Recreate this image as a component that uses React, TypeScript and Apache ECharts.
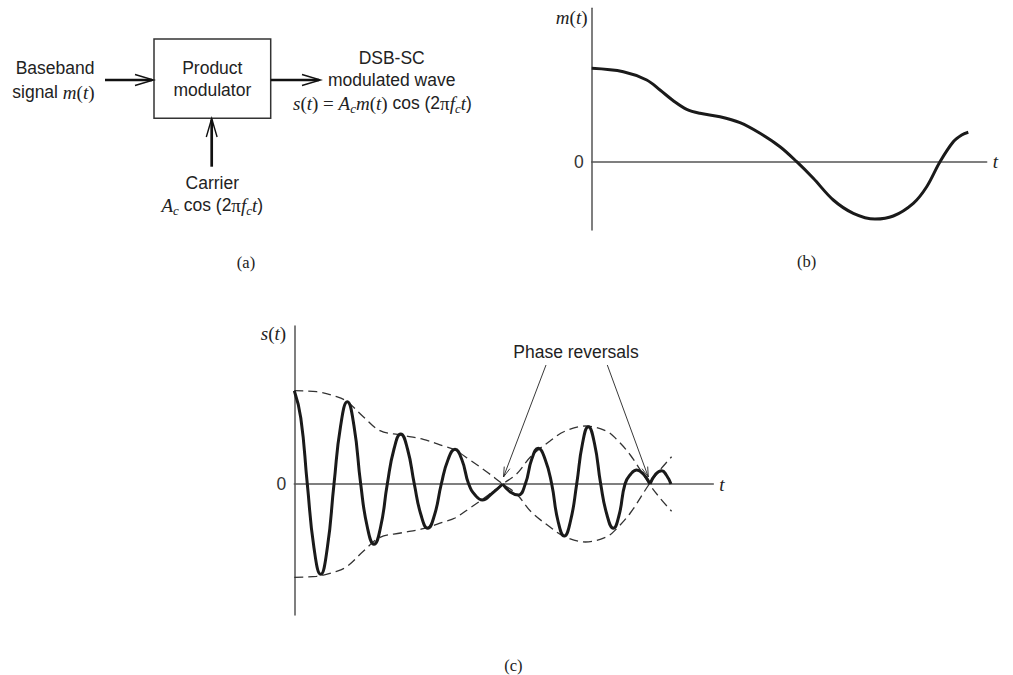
import React, { useEffect, useRef } from "react";
import * as echarts from "echarts";

// ---- Panel (b): baseband signal m(t) (t, value) ----
const mT = [0, 3.16, 5.5, 6.83, 8.16, 9.5, 10.83, 12.83, 14.83, 16.83, 18.83, 20.5, 22.16, 24.16, 26.16, 28.33, 30.16, 32.16, 33.5, 34.83, 36.16, 37.0, 37.66];
const mVal = [9.34, 9.0, 8.17, 7.17, 6.1, 5.24, 4.84, 4.5, 3.9, 2.84, 1.5, 0, -1.66, -3.83, -5.16, -5.73, -5.43, -4.16, -2.5, 0, 2.0, 2.67, 2.94];

// ---- Panel (c): envelope (dashed, drawn as +env and -env) ----
const envT = [0, 2.23, 4.23, 5.3, 6.9, 8.57, 10.63, 12.9, 14.9, 16.07, 17.57, 19.23, 20.84, 22.23, 23.7, 25.57, 27.0, 29.1, 31.2, 32.2, 33.6, 35.5, 36.57, 37.73];
const envVal = [9.33, 9.23, 8.73, 8.23, 6.73, 5.33, 4.9, 4.47, 3.8, 3.4, 2.4, 1.23, 0, -1.0, -2.8, -4.3, -5.25, -5.8, -5.3, -4.5, -2.9, 0, 1.4, 2.73];

// ---- Panel (c): DSB-SC wave s(t), three segments split at the phase reversals ----
const s1T = [0, 0.65, 1.3, 1.97, 2.64, 3.3, 3.97, 4.63, 5.3, 5.97, 6.64, 7.3, 7.97, 8.63, 9.3, 9.97, 10.64, 11.32, 12.0, 12.67, 13.34, 14.02, 14.7, 15.38, 16.07, 16.75, 17.44, 18.12, 18.8, 19.82, 20.84];
const s1V = [9.33, 6.6, 0, -6.4, -9.03, -6.4, 0, 5.8, 8.23, 5.8, 0, -4.3, -6.03, -4.3, 0, 3.5, 5.0, 3.5, 0, -3.1, -4.43, -3.1, 0, 2.45, 3.47, 2.45, 0, -1.15, -1.6, -0.9, 0];
const s2T = [20.84, 21.6, 22.4, 23.1, 23.75, 24.4, 25.07, 25.74, 26.37, 27.0, 27.62, 28.24, 28.82, 29.4, 30.02, 30.64, 31.27, 31.9, 32.48, 33.07, 33.65, 34.24, 34.9, 35.57];
const s2V = [0, -0.8, -1.1, 0, 2.5, 3.57, 2.5, 0, -3.7, -5.2, -3.7, 0, 4.05, 5.73, 4.05, 0, -3.1, -4.43, -3.1, 0, 1.0, 1.4, 1.0, 0];
const s3T = [35.57, 36.15, 36.74, 37.2, 37.67];
const s3V = [0, 1.0, 1.33, 0.9, 0];

const pairs = (t: number[], v: number[]) => t.map((x, i) => [x, v[i]]);

const SANS = "Liberation Sans";
const SERIF = "Liberation Serif";
const INK = "#222";

const rich = {
  s: { fontFamily: SANS, fontSize: 17.5, color: INK, lineHeight: 22, verticalAlign: "middle" },
  it: { fontFamily: SERIF, fontStyle: "italic", fontSize: 19, color: INK, lineHeight: 22, verticalAlign: "middle" },
  rm: { fontFamily: SERIF, fontSize: 19, color: INK, lineHeight: 22, verticalAlign: "middle" },
  sub: { fontFamily: SERIF, fontStyle: "italic", fontSize: 13, color: INK, lineHeight: 12, padding: [10, 0, 0, 0], verticalAlign: "middle" },
};

function head(x1: number, y1: number, x2: number, y2: number, len: number, hw: number) {
  const dx = x2 - x1, dy = y2 - y1, L = Math.hypot(dx, dy);
  const ux = dx / L, uy = dy / L;
  const bx = x2 - ux * len, by = y2 - uy * len;
  return [[bx - uy * hw, by + ux * hw], [x2, y2], [bx + uy * hw, by - ux * hw]];
}

function txt(text: string, x: number, y: number, align: string, extra: any = {}) {
  return {
    type: "text",
    x, y,
    style: { text, textAlign: align, textVerticalAlign: "middle", fill: INK, font: `17.5px '${SANS}'`, rich, ...extra },
  };
}

function line(x1: number, y1: number, x2: number, y2: number, w: number) {
  return { type: "line", shape: { x1, y1, x2, y2 }, style: { stroke: "#111", lineWidth: w } };
}

function poly(points: number[][], w: number) {
  return { type: "polyline", shape: { points }, style: { stroke: "#111", lineWidth: w, fill: "none" } };
}

const axisCommon = {
  axisLine: { show: true, lineStyle: { color: "#555", width: 1.5 } },
  axisTick: { show: false },
  splitLine: { show: false },
};

export default function App() {
  const ref = useRef<HTMLDivElement>(null);
  useEffect(() => {
    if (!ref.current) return;
    const chart = echarts.init(ref.current, undefined, { renderer: "svg" });
    const arrowA = [546, 365, 503.5, 477];
    const arrowB = [607.3, 365, 648.3, 477];
    chart.setOption({
      animation: false,
      grid: [
        { left: 591.7, top: 8.3, width: 395, height: 221.7 },
        { left: 294.3, top: 326, width: 419, height: 289 },
      ],
      xAxis: [
        {
          gridIndex: 0, type: "value", min: 0, max: 39.5, ...axisCommon,
          axisLabel: { show: false },
          name: "t", nameLocation: "end", nameGap: 6,
          nameTextStyle: { fontFamily: SERIF, fontStyle: "italic", fontSize: 19, color: INK },
        },
        {
          gridIndex: 1, type: "value", min: 0, max: 41.9, ...axisCommon,
          axisLabel: { show: false },
          name: "t", nameLocation: "end", nameGap: 6,
          nameTextStyle: { fontFamily: SERIF, fontStyle: "italic", fontSize: 19, color: INK },
        },
      ],
      yAxis: [
        {
          gridIndex: 0, type: "value", min: -6.83, max: 15.34, ...axisCommon,
          axisLabel: {
            formatter: (v: number) => (v === 0 ? "0" : ""), showMinLabel: false, showMaxLabel: false,
            fontFamily: SANS, fontSize: 17.5, color: "#333", margin: 8,
          },
        },
        {
          gridIndex: 1, type: "value", min: -13.1, max: 15.8, ...axisCommon,
          axisLabel: {
            formatter: (v: number) => (v === 0 ? "0" : ""), showMinLabel: false, showMaxLabel: false,
            fontFamily: SANS, fontSize: 17.5, color: "#333", margin: 8,
          },
        },
      ],
      series: [
        {
          type: "line", xAxisIndex: 0, yAxisIndex: 0, data: pairs(mT, mVal), smooth: 0.35,
          showSymbol: false, silent: true, lineStyle: { width: 3, color: "#1a1a1a" },
        },
        {
          type: "line", xAxisIndex: 1, yAxisIndex: 1, data: pairs(envT, envVal), smooth: 0.35,
          showSymbol: false, silent: true, z: 1, lineStyle: { width: 1.3, color: "#333", type: [9, 5] },
        },
        {
          type: "line", xAxisIndex: 1, yAxisIndex: 1, data: pairs(envT, envVal.map((v) => -v)), smooth: 0.35,
          showSymbol: false, silent: true, z: 1, lineStyle: { width: 1.3, color: "#333", type: [9, 5] },
        },
        ...[pairs(s1T, s1V), pairs(s2T, s2V), pairs(s3T, s3V)].map((d) => ({
          type: "line", xAxisIndex: 1, yAxisIndex: 1, data: d, smooth: 0.5,
          showSymbol: false, silent: true, z: 3, lineStyle: { width: 3, color: "#1a1a1a" },
        })),
      ],
      graphic: [
        // ----- panel (a): block diagram -----
        { type: "rect", shape: { x: 154, y: 39, width: 116.7, height: 79.3 }, style: { fill: "none", stroke: "#333", lineWidth: 1.5 } },
        txt("Product", 212.3, 68, "center"),
        txt("modulator", 212.3, 89.5, "center"),
        txt("Baseband", 94.5, 67.7, "right"),
        txt("{s|signal }{it|m}{rm|(}{it|t}{rm|)}", 94.5, 92.3, "right"),
        line(105, 80, 152, 80, 2.7),
        poly([[135, 74.5], [153.5, 80], [135, 85.5]], 1.4),
        line(270.7, 80, 319, 80, 2.7),
        poly([[302, 74.5], [320.5, 80], [302, 85.5]], 1.4),
        line(211.7, 166.7, 211.7, 119.5, 2.7),
        poly([[206.3, 137], [211.7, 118.5], [217.1, 137]], 1.4),
        txt("Carrier", 212.3, 182.7, "center"),
        txt("{it|A}{sub|c}{s| cos (2}{rm|π}{it|f}{sub|c}{it|t}{s|)}", 212.3, 205, "center"),
        txt("DSB-SC", 391.7, 58, "center"),
        txt("modulated wave", 328, 80, "left"),
        txt("{it|s}{rm|(}{it|t}{rm|) = }{it|A}{sub|c}{it|m}{rm|(}{it|t}{rm|)}{s| cos (2}{rm|π}{it|f}{sub|c}{it|t}{s|)}", 293, 103, "left"),
        // ----- axis titles -----
        txt("{it|m}{rm|(}{it|t}{rm|)}", 571.7, 17.5, "center"),
        txt("{it|s}{rm|(}{it|t}{rm|)}", 273.5, 333.3, "center"),
        // ----- panel captions -----
        txt("(a)", 246, 262, "center", { font: `16.5px '${SERIF}'` }),
        txt("(b)", 806.7, 261.7, "center", { font: `16.5px '${SERIF}'` }),
        txt("(c)", 513.3, 665, "center", { font: `16.5px '${SERIF}'` }),
        // ----- phase reversal annotation -----
        txt("Phase reversals", 576, 351.7, "center"),
        { type: "line", shape: { x1: arrowA[0], y1: arrowA[1], x2: arrowA[2], y2: arrowA[3] }, style: { stroke: "#222", lineWidth: 0.9 } },
        { type: "polyline", shape: { points: head(arrowA[0], arrowA[1], arrowA[2], arrowA[3], 10, 3) }, style: { stroke: "#222", lineWidth: 0.9, fill: "none" } },
        { type: "line", shape: { x1: arrowB[0], y1: arrowB[1], x2: arrowB[2], y2: arrowB[3] }, style: { stroke: "#222", lineWidth: 0.9 } },
        { type: "polyline", shape: { points: head(arrowB[0], arrowB[1], arrowB[2], arrowB[3], 10, 3) }, style: { stroke: "#222", lineWidth: 0.9, fill: "none" } },
      ],
    });
    return () => chart.dispose();
  }, []);
  return (
    <div
      ref={ref}
      style={{ position: "fixed", left: 0, top: 0, width: 1013, height: 675, background: "#fff" }}
    />
  );
}
